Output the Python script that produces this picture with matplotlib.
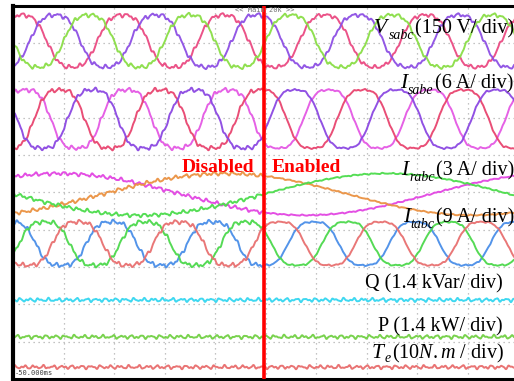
import matplotlib.pyplot as plt
import numpy as np

plt.rcParams['font.family'] = 'Liberation Serif'
plt.rcParams['mathtext.fontset'] = 'custom'
plt.rcParams['mathtext.rm'] = 'Liberation Serif'
plt.rcParams['mathtext.it'] = 'Liberation Serif:italic'

# scope screen: 10 x 10 divisions, 10 ms/div, 50 Hz supply
PERIOD = 2.0          # stator period in divisions
enable_t = 4.97       # compensation switched on here

# three-phase traces: offset (div), amplitude (div), peak time per phase (div)
v_sabc_offset, v_sabc_amp = 9.06, 0.70
v_sabc_peaks = [0.17, 0.83, 1.50]
v_sabc_colors = ['#ea4a82', '#8d4fe4', '#8ade46']

i_sabc_offset, i_sabc_amp = 6.97, 0.78
i_sabc_peaks = [0.25, 0.92, 1.58]
i_sabc_colors = ['#e458e4', '#e8446f', '#8b48e2']

i_rabc_offset, i_rabc_amp = 4.95, 0.56
i_rabc_period = 9.8
i_rabc_peaks = [0.9, 4.2, 7.4]
i_rabc_colors = ['#e245e2', '#ea9242', '#4cdc4c']

i_tabc_offset, i_tabc_amp = 3.63, 0.58
i_tabc_peaks = [-0.05, 0.62, 1.28]
i_tabc_colors = ['#4a8ee8', '#4cd84c', '#e87070']

# power and torque traces: level (div)
q_level = 2.12
p_level = 1.13
te_level = 0.32

t = np.linspace(0, 10, 3000)


def phase(peak, period, flat):
    x = 2 * np.pi * (t - peak) / period
    return (np.cos(x) - flat * np.cos(3 * x)) / (1 - flat)


def ripple(k, before, after):
    w = (np.sin(2 * np.pi * 5.3 * t + 1.7 * k)
         + 0.6 * np.sin(2 * np.pi * 8.9 * t + 2.9 * k)
         + 0.4 * np.sin(2 * np.pi * 13.7 * t + 0.8 * k))
    return np.where(t < enable_t, before, after) * w


fig = plt.figure(figsize=(5.14, 3.81), dpi=100)
ax = fig.add_axes([13 / 514, 2 / 381, 505 / 514, 373 / 381])
ax.set_xlim(0, 10)
ax.set_ylim(0, 10)

k = 0
for off, amp, peaks, cols, per, flat, rb, ra in [
        (v_sabc_offset, v_sabc_amp, v_sabc_peaks, v_sabc_colors, PERIOD, 0.08, 0.035, 0.03),
        (i_sabc_offset, i_sabc_amp, i_sabc_peaks, i_sabc_colors, PERIOD, 0.10, 0.035, 0.015),
        (i_rabc_offset, i_rabc_amp, i_rabc_peaks, i_rabc_colors, i_rabc_period, 0.0, 0.03, 0.01),
        (i_tabc_offset, i_tabc_amp, i_tabc_peaks, i_tabc_colors, PERIOD, 0.10, 0.035, 0.012)]:
    for pk, c in zip(peaks, cols):
        k += 1
        ax.plot(t, off + amp * phase(pk, per, flat) + ripple(k, rb, ra),
                color=c, lw=1.4, alpha=0.95)

for lvl, c in [(q_level, '#34d6f0'), (p_level, '#72d044'), (te_level, '#e86c6c')]:
    k += 1
    ax.plot(t, lvl + ripple(k, 0.03, 0.03), color=c, lw=1.4, alpha=0.95)

# dotted graticule
for g in range(1, 10):
    ax.axvline(g, color='#b0b0b0', lw=0.9, ls=(0, (1, 3)), zorder=0)
    ax.axhline(g, color='#b0b0b0', lw=0.9, ls=(0, (1, 3)), zorder=0)

ax.axvline(enable_t, color='#ff0000', lw=2.6, zorder=5)

ax.set_xticks([])
ax.set_yticks([])
ax.spines['left'].set_linewidth(3)
ax.spines['top'].set_linewidth(2.2)
ax.spines['bottom'].set_linewidth(2.2)
ax.spines['right'].set_visible(False)

renderer = fig.canvas.get_renderer()
W, H = 514, 381


def label(xr, yb, main, sub, rest, sub_drop=6):
    # scale text right-aligned, then subscript, then the italic symbol
    t1 = fig.text(xr / W, 1 - yb / H, rest, ha='right', va='baseline',
                  fontsize=14.5, zorder=6)
    x0 = t1.get_window_extent(renderer).x0
    t2 = fig.text((x0 - 1) / W, 1 - (yb + sub_drop) / H, sub, style='italic',
                  fontsize=10, ha='right', va='baseline', zorder=6)
    x1 = t2.get_window_extent(renderer).x0
    fig.text((x1 - 1) / W, 1 - yb / H, main, style='italic', fontsize=15.5,
             ha='right', va='baseline', zorder=6)


label(514, 33, 'V', 'sabc', '(150 V/ div)')
label(513, 88, 'I', 'sabe', '(6 A/ div)')
label(514, 175, 'I', 'rabc', '(3 A/ div)')
label(514, 222, 'I', 'tabc', '(9 A/ div)')
label(504, 358, 'T', 'e', r'(10$N.m$ / div)', sub_drop=4)

fig.text(503 / W, 1 - 288 / H, 'Q (1.4 kVar/ div)', ha='right', va='baseline',
         fontsize=14.5)
fig.text(503 / W, 1 - 331 / H, 'P (1.4 kW/ div)', ha='right', va='baseline',
         fontsize=14.5)

fig.text(182 / W, 1 - 172 / H, 'Disabled', color='#ff0000', fontsize=14,
         fontweight='bold', va='baseline', ha='left')
fig.text(272 / W, 1 - 172 / H, 'Enabled', color='#ff0000', fontsize=14,
         fontweight='bold', va='baseline', ha='left')

# scope status text
fig.text(265 / W, 1 - 10 / H, '<< Main 20k >>', family='DejaVu Sans Mono',
         fontsize=5, color='#707070', ha='center', va='center')
fig.text(15 / W, 1 - 373 / H, '-50.000ms', family='DejaVu Sans Mono',
         fontsize=5, color='#404040', ha='left', va='center')

fig.savefig('out.png', dpi=100)
